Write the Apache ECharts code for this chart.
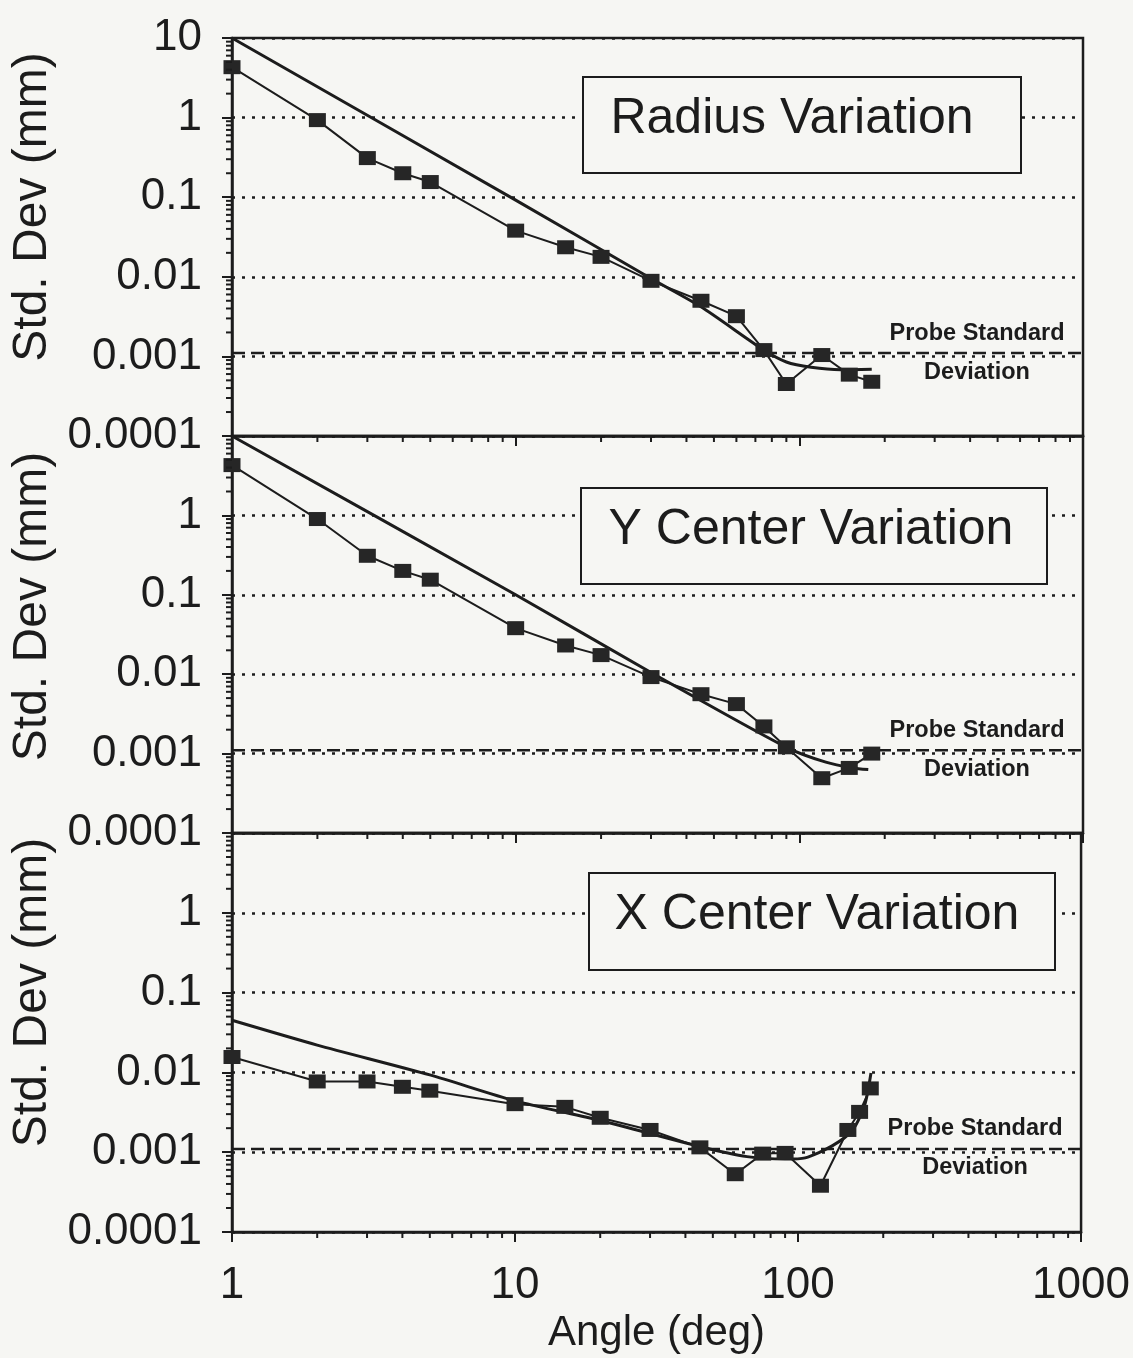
<!DOCTYPE html>
<html><head><meta charset="utf-8">
<script src="https://cdn.jsdelivr.net/npm/echarts@6/dist/echarts.min.js"></script>
<style>html,body{margin:0;padding:0;background:#f6f6f3;} #chart{width:1133px;height:1358px;}</style>
</head><body><div id="chart"></div>
<script>
// ---------- DATA ----------
const angles = [1, 2, 3, 4, 5, 10, 15, 20, 30, 45, 60, 75, 90, 120, 150, 180];
const radiusStd = [4.3, 0.93, 0.31, 0.20, 0.155, 0.038, 0.0235, 0.0178, 0.0089, 0.0050, 0.0032, 0.0012, 0.00045, 0.00104, 0.00059, 0.00048];
const yCenterStd = [4.3, 0.90, 0.31, 0.20, 0.155, 0.038, 0.023, 0.0174, 0.0092, 0.0056, 0.0042, 0.0022, 0.0012, 0.00049, 0.00066, 0.0010];
const xCenterAngles = [1, 2, 3, 4, 5, 10, 15, 20, 30, 45, 60, 75, 90, 120, 150, 165, 180];
const xCenterStd = [0.0156, 0.0077, 0.0077, 0.0066, 0.0059, 0.0040, 0.0037, 0.0027, 0.0019, 0.00115, 0.00053, 0.00096, 0.00098, 0.00038, 0.0019, 0.0032, 0.0063];

const radiusFitAngles = [1, 10, 30, 45, 75, 90, 110, 140, 180];
const radiusFitStd = [10, 0.092, 0.0095, 0.0042, 0.0012, 0.00085, 0.00073, 0.00068, 0.00069];
const yCenterFitAngles = [1, 10, 30, 90, 124, 154, 175];
const yCenterFitStd = [10, 0.1, 0.0105, 0.0012, 0.00078, 0.00066, 0.00063];
const xCenterFitAngles = [1, 2, 5, 10, 20, 45, 66, 90, 106, 132, 156, 172, 181];
const xCenterFitStd = [0.045, 0.022, 0.0093, 0.0044, 0.0025, 0.00118, 0.00088, 0.00082, 0.00085, 0.0012, 0.0019, 0.0039, 0.0098];

const probeStd = 0.0011;
const probeLabels = ['Probe Standard', 'Deviation'];
const panelTitles = ['Radius Variation', 'Y Center Variation', 'X Center Variation'];
const xTickLabels = ['1', '10', '100', '1000'];
const yTickLabels = ['0.0001', '0.001', '0.01', '0.1', '1', '10'];
const xMinorTicks = [2, 3, 4, 5, 6, 7, 8, 9, 20, 30, 40, 50, 60, 70, 80, 90, 200, 300, 400, 500, 600, 700, 800, 900];
const yMinorTicks = [0.0002, 0.0003, 0.0004, 0.0005, 0.0006, 0.0007, 0.0008, 0.0009,
  0.002, 0.003, 0.004, 0.005, 0.006, 0.007, 0.008, 0.009,
  0.02, 0.03, 0.04, 0.05, 0.06, 0.07, 0.08, 0.09,
  0.2, 0.3, 0.4, 0.5, 0.6, 0.7, 0.8, 0.9,
  2, 3, 4, 5, 6, 7, 8, 9];
const xRange = [1, 1000];
const yRange = [0.0001, 10];

// ---------- LAYOUT / STYLE ----------
const INK = '#1c1c1c';
const BG = '#f6f6f3';
const FONT = 'Liberation Sans, Arial, Helvetica, sans-serif';
const gridLeft = 232, gridWidth = 851;
const gridTops = [38, 436, 833];
const gridHeights = [398, 397, 399];
const titleBoxes = [
  { x: 582, y: 76, w: 438, h: 96, fs: 50, dx: -9 },
  { x: 580, y: 487, w: 466, h: 96, fs: 50, dx: -2 },
  { x: 588, y: 872, w: 466, h: 97, fs: 50, dx: -4 }
];
const namePadding = [60, 56, 80];

const panels = [
  { ax: angles, ay: radiusStd, fx: radiusFitAngles, fy: radiusFitStd },
  { ax: angles, ay: yCenterStd, fx: yCenterFitAngles, fy: yCenterFitStd },
  { ax: xCenterAngles, ay: xCenterStd, fx: xCenterFitAngles, fy: xCenterFitStd }
];

const zip = (a, b) => a.map((v, i) => [v, b[i]]);
const decadeIdx = v => Math.round(Math.log10(v));

const grid = gridTops.map((t, i) => ({
  left: gridLeft, top: t, width: gridWidth, height: gridHeights[i],
  show: true, borderColor: INK, borderWidth: 2.5, backgroundColor: 'transparent'
}));

const xAxis = gridTops.map((t, i) => ({
  type: 'log', logBase: 10, gridIndex: i, min: xRange[0], max: xRange[1],
  axisLine: { show: true, lineStyle: { color: INK, width: 2.5 } },
  axisTick: { show: true, inside: false, length: 10, lineStyle: { color: INK, width: 2 } },
  axisLabel: {
    show: i === 2, fontSize: 44, margin: 32, color: INK, fontFamily: FONT,
    formatter: v => xTickLabels[decadeIdx(v)]
  },
  splitLine: { show: false },
  minorTick: { show: false },
  name: i === 2 ? 'Angle (deg)' : '',
  nameLocation: 'middle', nameGap: 80,
  nameTextStyle: { fontSize: 42, color: INK, fontFamily: FONT }
}));

const yAxis = gridTops.map((t, i) => ({
  type: 'log', logBase: 10, gridIndex: i, min: yRange[0], max: yRange[1],
  axisLine: { show: true, lineStyle: { color: INK, width: 2.5 } },
  axisTick: { show: true, inside: false, length: 10, lineStyle: { color: INK, width: 2 } },
  axisLabel: {
    fontSize: 44, margin: 30, color: INK, fontFamily: FONT,
    showMaxLabel: i === 0, showMinLabel: true,
    formatter: v => yTickLabels[decadeIdx(v) + 4]
  },
  splitLine: { show: true, lineStyle: { type: [3, 7], width: 2.5, color: INK } },
  name: 'Std. Dev (mm)', nameLocation: 'middle', nameGap: 163,
  nameTextStyle: { fontSize: 48, color: INK, fontFamily: FONT, padding: [0, 0, 0, namePadding[i]] }
}));

function minorTickSeries(gi, kind) {
  const vals = kind === 'x' ? xMinorTicks : yMinorTicks;
  return {
    type: 'custom', xAxisIndex: gi, yAxisIndex: gi, silent: true, clip: false, z: 6,
    data: vals.map(v => kind === 'x' ? [v, yRange[0]] : [xRange[0], v]),
    renderItem: (params, api) => {
      const p = api.coord([api.value(0), api.value(1)]);
      const len = 6;
      return {
        type: 'line',
        shape: kind === 'x'
          ? { x1: p[0], y1: p[1], x2: p[0], y2: p[1] + len }
          : { x1: p[0] - len, y1: p[1], x2: p[0], y2: p[1] },
        style: { stroke: INK, lineWidth: 2 }
      };
    }
  };
}

const series = [];
panels.forEach((p, i) => {
  // probe standard deviation level
  series.push({
    type: 'line', xAxisIndex: i, yAxisIndex: i, silent: true,
    data: [[xRange[0], probeStd], [xRange[1], probeStd]],
    symbol: 'none', z: 2,
    lineStyle: { color: INK, width: 2.5, type: [13, 6] }
  });
  // fitted curve
  series.push({
    type: 'line', xAxisIndex: i, yAxisIndex: i, data: zip(p.fx, p.fy),
    symbol: 'none', smooth: 0.25, z: 3,
    lineStyle: { color: INK, width: 3 }
  });
  // measured
  series.push({
    type: 'line', xAxisIndex: i, yAxisIndex: i, data: zip(p.ax, p.ay),
    symbol: 'rect', symbolSize: [17, 14], showAllSymbol: true, z: 4,
    lineStyle: { color: INK, width: 2 },
    itemStyle: { color: '#262626' }
  });
  series.push(minorTickSeries(i, 'x'));
  series.push(minorTickSeries(i, 'y'));
});

const graphic = [];
titleBoxes.forEach((b, i) => {
  graphic.push({ type: 'rect', id: 'box' + i, left: b.x, top: b.y, z: 100,
    shape: { width: b.w, height: b.h }, style: { fill: BG, stroke: INK, lineWidth: 2 } });
  graphic.push({ type: 'text', id: 'title' + i, z: 101, x: b.x + b.w / 2 + b.dx, y: b.y + b.h / 2 - 5,
    style: { text: panelTitles[i], align: 'center', verticalAlign: 'middle', fontSize: b.fs, fontFamily: FONT, fill: INK } });
});

const chart = echarts.init(document.getElementById('chart'), null, { renderer: 'canvas' });
chart.setOption({
  backgroundColor: BG,
  animation: false,
  grid, xAxis, yAxis, series, graphic
});

// probe labels anchored to the probe level through the axes
const extra = [];
panels.forEach((p, i) => {
  const pt = chart.convertToPixel({ gridIndex: i }, [xRange[1], probeStd]);
  const cx = pt[0] - 106;
  extra.push({ type: 'text', id: 'probeA' + i, z: 50, x: cx, y: pt[1] - 20,
    style: { text: probeLabels[0], align: 'center', verticalAlign: 'middle', fontSize: 23.5, fontWeight: 'bold', fontFamily: FONT, fill: INK } });
  extra.push({ type: 'text', id: 'probeB' + i, z: 50, x: cx, y: pt[1] + 19,
    style: { text: probeLabels[1], align: 'center', verticalAlign: 'middle', fontSize: 23.5, fontWeight: 'bold', fontFamily: FONT, fill: INK } });
});
chart.setOption({ graphic: extra });
</script>
</body></html>
